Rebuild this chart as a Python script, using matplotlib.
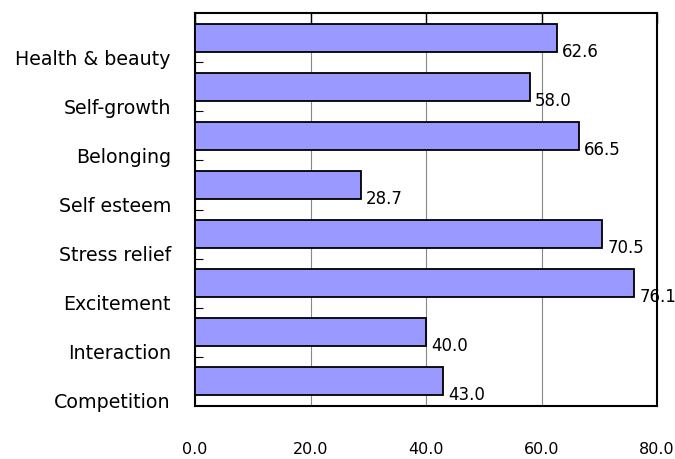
import numpy as np
import matplotlib
matplotlib.use("Agg")
import matplotlib.pyplot as plt

categories = ["Health & beauty", "Self-growth", "Belonging", "Self esteem",
              "Stress relief", "Excitement", "Interaction", "Competition"]
values = [62.6, 58.0, 66.5, 28.7, 70.5, 76.1, 40.0, 43.0]
xticks = [0, 20, 40, 60, 80]

plt.rcParams["font.family"] = ["DejaVu Sans"]
FILL = "#9999FF"

fig = plt.figure(figsize=(6.75, 4.59), dpi=100)
ax = fig.add_axes([195/675, 1-406/459, 462/675, 393/459])

y = np.arange(len(categories))
ax.barh(y, values, height=0.57, color=FILL, edgecolor="black", linewidth=1.3, zorder=3)
ax.set_ylim(len(categories)-0.5, -0.5)
ax.set_xlim(0, 80)

ax.set_xticks(xticks)
ax.set_xticklabels([f"{v:.1f}" for v in xticks], fontsize=11.5)
ax.grid(axis="x", color="#888888", linewidth=0.8, zorder=0)
ax.tick_params(axis="x", bottom=False, top=True, direction="in", length=7,
               width=1, pad=26)

# ticks sit on category boundaries, labels just above them
ax.set_yticks(y[:-1] + 0.5)
ax.set_yticklabels([])
ax.tick_params(axis="y", direction="in", length=6, width=0.8)
for yi, name in zip(y, categories):
    ax.annotate(name, xy=(0, yi + 0.5), xycoords=("axes fraction", "data"),
                xytext=(-24, 3), textcoords="offset pixels",
                ha="right", va="center", fontsize=13.7)

for yi, v in zip(y, values):
    ax.annotate(f"{v:.1f}", xy=(v, yi + 0.285), xytext=(5, 0),
                textcoords="offset pixels", ha="left", va="center",
                fontsize=12, zorder=5, annotation_clip=False)

for sp in ax.spines.values():
    sp.set_linewidth(1.5)
    sp.set_color("black")

fig.savefig("out.png", dpi=100)
